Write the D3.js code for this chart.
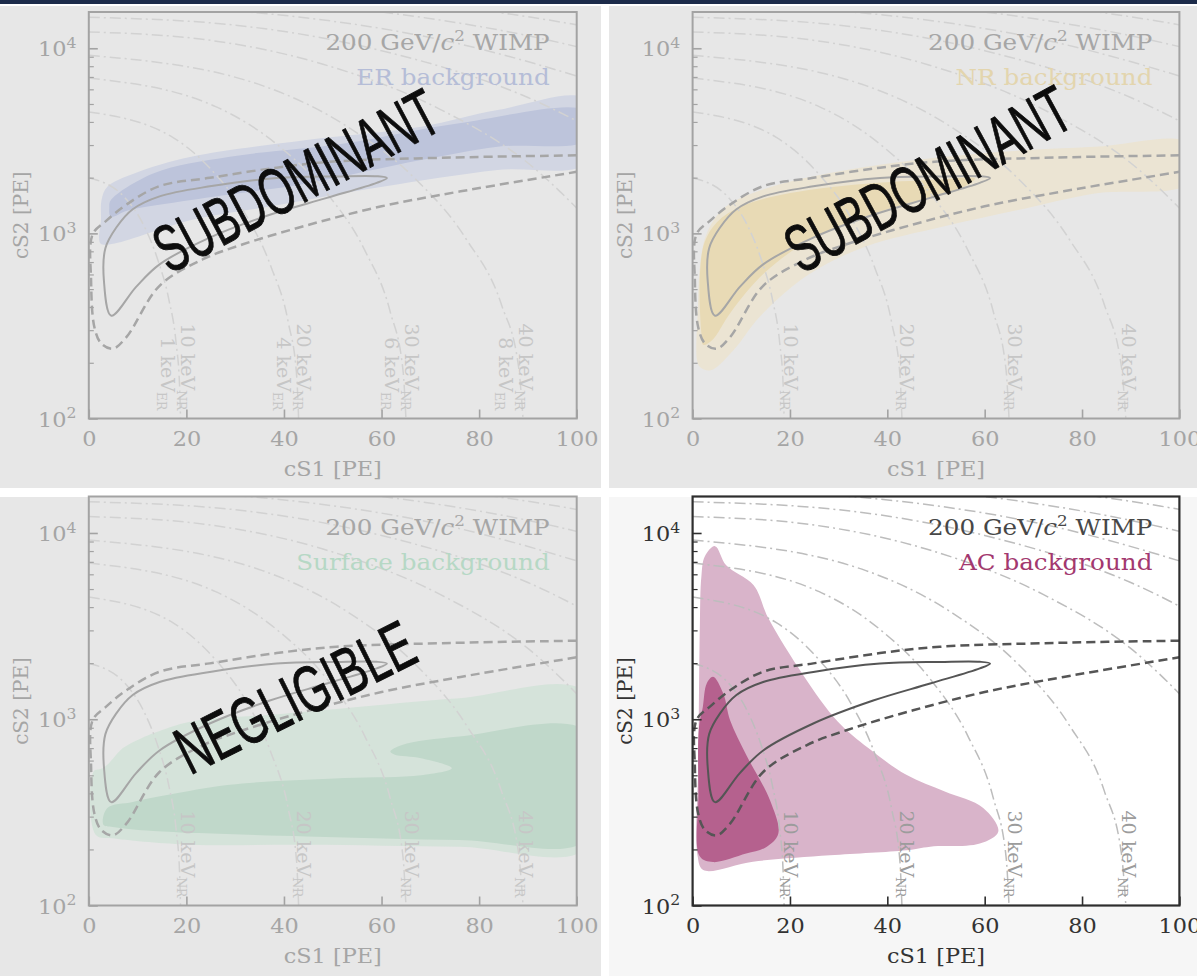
<!DOCTYPE html>
<html><head><meta charset="utf-8">
<script src="https://cdn.jsdelivr.net/npm/d3@7"></script>
<style>body{margin:0;background:#fff;} svg{display:block;}</style>
</head><body>
<svg id="c" width="1197" height="976"></svg>
<script>
// ---------------- DATA ----------------
const xTicks = [0, 20, 40, 60, 80, 100];
const yMajorTicks = [100, 1000, 10000];
const yMinorTicks = [200, 300, 400, 500, 600, 700, 800, 900, 2000, 3000, 4000, 5000, 6000, 7000, 8000, 9000];
const xDomain = [0, 100];
const yDomain = [100, 15700];

// WIMP 200 GeV signal contours [cS1, cS2]
const wimpSolid = [[4.6,359],[3.1,555],[3.4,832],[5.6,1072],[9,1350],[14.5,1585],[24.8,1795],[38.5,1990],[50.8,2030],[59,2035],[61.1,1990],[59,1875],[48.8,1556],[37.1,1260],[24.8,949],[14.5,680],[9.7,514]];
const wimpDashed = [[100,2640],[75,2570],[50.8,2450],[38.5,2265],[24.8,1995],[14.5,1800],[7.7,1430],[3.5,1165],[0.8,990],[0.47,555],[1.15,311],[2.5,255],[4.9,238],[7.7,275],[14.5,521],[23.4,725],[31.6,873],[45.3,1117],[60,1400],[76.2,1687],[100,2150]];

// constant-energy contours
const energyLines = [
  [[0,2000],[7.5,1550],[11.3,1100],[14.1,725],[16.4,440],[17.9,255],[18.6,152],[18.8,100]],
  [[0,4530],[17.2,3300],[25.8,2110],[32.3,1245],[37.4,655],[40.9,329],[42.6,171],[43,100]],
  [[0,6900],[26,4840],[39,2960],[48.8,1645],[56.6,807],[61.8,375],[64.4,182],[65,100]],
  [[0,9160],[35.6,6280],[53.4,3715],[66.8,1985],[77.4,927],[84.6,410],[88.1,189],[89,100]],
  [[0,12250],[24,11120],[48,8200],[72,4680],[90,2400],[104,1070]],
  [[0,14700],[30,13330],[60,9700],[90,5420],[112,2720]],
  [[0,17100],[36,15420],[72,11140],[108,6110]],
  [[0,19500],[42,17540],[84,12560],[126,6790]],
  [[0,21900],[48,19630],[96,13960],[144,7450]]
];
const energyLabelX = [20.2, 44, 66.2, 89.6];
const energyNR = ["10", "20", "30", "40"];
const energyER = ["1", "4", "6", "8"];

// background regions
const erOuter = [[2.4,883],[2.5,1200],[2.6,1510],[3.8,1786],[9.3,2109],[21,2594],[44.6,3192],[68.1,3767],[83.8,4634],[102,5300],[102,2400],[83.8,2198],[60.2,1786],[36.7,1393],[21,1180],[5.3,883]];
const erInner = [[4.5,1230],[4.2,1380],[4.5,1510],[13.2,2109],[28.9,2594],[52.4,3062],[75.9,3936],[102,4560],[102,3200],[83.8,2938],[68.1,2489],[44.6,1862],[21,1514],[8,1330]];
const nrOuter = [[0.9,207],[1.1,400],[1.5,661],[2.9,1000],[6.8,1393],[16.2,1786],[35.7,2291],[59.1,2704],[82.6,2938],[102,3070],[102,1870],[82.6,1644],[66.9,1337],[51.3,1086],[35.7,851],[24,603],[13.8,355],[8.4,234],[3.7,182],[1.5,190]];
const nrInner = [[1.8,290],[1.5,600],[2.5,900],[5,1150],[10,1400],[20,1650],[35,1850],[50,1950],[58,1980],[55,1750],[40,1350],[25,950],[15,620],[8,380],[4,265],[2.2,250]];
const surfOuter = [[1.0,525],[2.4,540],[3.8,569],[7,700],[10.8,791],[13.2,841],[21,973],[36.7,1054],[52.4,1146],[75.9,1297],[102,1390],[102,204],[75.9,207],[44.6,212],[21,212],[5.3,229],[1.4,240]];
const surfInner = [[3.0,271],[3.8,334],[9,360],[16.3,393],[28.9,445],[52.4,483],[68.1,501],[74.4,546],[68.1,617],[62.6,646],[61.8,671],[64.2,728],[75.9,807],[102,860],[102,225],[75.9,225],[44.6,235],[13.2,251],[5.3,263]];
const acOuter = [[4.6,8500],[6.9,6710],[12.5,5250],[15.6,3470],[22.7,1730],[29.8,972],[36.1,700],[43.9,503],[51.8,409],[59.7,334],[62.8,250],[59,215],[48.8,207],[43.9,198],[28.2,186],[12.4,172],[2.2,155],[1.0,186],[1.2,600],[1.5,3270],[1.8,5820],[2.5,7470]];
const acInner = [[4.2,1690],[6.3,1374],[7.7,988],[11.0,645],[15.9,367],[17.6,243],[15,205],[11.0,190],[4.2,171],[1.5,183],[1.2,400],[1.3,900],[2.1,1165],[2.9,1556]];

const wimpLabel = "200 GeV/";
const bgNames = ["ER background", "NR background", "Surface background", "AC background"];
const overlayTexts = ["SUBDOMINANT", "SUBDOMINANT", "NEGLIGIBLE", null];

// ---------------- STYLE / LAYOUT ----------------
const FONT = "'DejaVu Serif', serif";
const SX = 1.12;
const DIM = {bg:'#e7e7e7', plotBg:null, frame:'#a3a3a3', tick:'#a5a5a5', text:'#a6a6a6', wimp:'#a6a6a6', energy:'#d2d2d2', elabel:'#c6c6c6', fw:2};
const NORM = {bg:'#f6f6f6', plotBg:'#ffffff', frame:'#2e2e2e', tick:'#333333', text:'#474747', wimp:'#555555', energy:'#bdbdbd', elabel:'#9c9c9c', fw:2.2};

const panels = [
  {bg:[0,6,601,482], plot:[88.8,12,576.7,418.5], st:DIM, nameColor:'#b5bdd7', fills:[[erOuter,'#d2d6e3'],[erInner,'#bdc4db']], twoLine:true, ov:{cx:295.6, cy:180, a:-28, len:312}},
  {bg:[609,6,588,482], plot:[692.6,12,1179.4,418.5], st:DIM, nameColor:'#e3d5ae', fills:[[nrOuter,'#ebe4d3'],[nrInner,'#e8dab5']], twoLine:false, ov:{cx:927.4, cy:178.3, a:-28.5, len:314}},
  {bg:[0,497,601,479], plot:[88.8,496.5,576.7,905.5], st:DIM, nameColor:'#b6d8c5', fills:[[surfOuter,'#d5e3da'],[surfInner,'#c0d8ca']], twoLine:false, ov:{cx:294.7, cy:696.3, a:-26.5, len:258}},
  {bg:[609,497,588,479], plot:[692.6,496.5,1179.4,905.5], st:NORM, nameColor:'#a3386f', fills:[[acOuter,'#d9b4ca'],[acInner,'#b5618e']], twoLine:false, ov:null}
];

const svg = d3.select('#c');
svg.append('rect').attr('x',0).attr('y',0).attr('width',1197).attr('height',4).attr('fill','#1c2b4a');

panels.forEach((p, i) => {
  const st = p.st;
  const [x0, y0, x1, y1] = p.plot;
  const g = svg.append('g');
  g.append('rect').attr('x',p.bg[0]).attr('y',p.bg[1]).attr('width',p.bg[2]).attr('height',p.bg[3]).attr('fill',st.bg);
  if (st.plotBg) g.append('rect').attr('x',x0).attr('y',y0).attr('width',x1-x0).attr('height',y1-y0).attr('fill',st.plotBg);

  const x = d3.scaleLinear().domain(xDomain).range([x0, x1]);
  const y = d3.scaleLog().domain(yDomain).range([y1, y0]);
  const clipId = 'clip' + i;
  svg.append('clipPath').attr('id', clipId).append('rect').attr('x',x0).attr('y',y0).attr('width',x1-x0).attr('height',y1-y0);
  const plot = g.append('g').attr('clip-path', `url(#${clipId})`);

  const closed = d3.line().x(d => x(d[0])).y(d => y(d[1])).curve(d3.curveCatmullRomClosed.alpha(0.5));
  const open = d3.line().x(d => x(d[0])).y(d => y(d[1])).curve(d3.curveCatmullRom.alpha(0.5));
  const mono = d3.line().x(d => x(d[0])).y(d => y(d[1])).curve(d3.curveMonotoneX);

  p.fills.forEach(([pts, col]) => plot.append('path').attr('d', closed(pts)).attr('fill', col));

  energyLines.forEach(pts => plot.append('path').attr('d', mono(pts)).attr('fill','none')
    .attr('stroke', st.energy).attr('stroke-width', 1.5).attr('stroke-dasharray','11,4,2,4'));

  // energy labels
  energyLabelX.forEach((lx, k) => {
    const px = x(lx), py = y1 - 8;
    const t = g.append('text').attr('transform', `translate(${px},${py}) rotate(90)`)
      .attr('text-anchor','end').attr('dy','0.35em').attr('font-family',FONT).attr('font-size',19).attr('fill',st.elabel);
    t.append('tspan').text(energyNR[k] + ' keV');
    t.append('tspan').attr('font-size',12.5).attr('dy',4).text('NR');
    if (p.twoLine) {
      const t2 = g.append('text').attr('transform', `translate(${px-20},${py}) rotate(90)`)
        .attr('text-anchor','end').attr('dy','0.35em').attr('font-family',FONT).attr('font-size',19).attr('fill',st.elabel);
      t2.append('tspan').text(energyER[k] + ' keV');
      t2.append('tspan').attr('font-size',12.5).attr('dy',4).text('ER');
    }
  });

  // WIMP contours
  plot.append('path').attr('d', closed(wimpSolid)).attr('fill','none').attr('stroke', st.wimp).attr('stroke-width', 2);
  plot.append('path').attr('d', open(wimpDashed)).attr('fill','none').attr('stroke', st.wimp).attr('stroke-width', 2.5).attr('stroke-dasharray','9,5');

  // frame
  g.append('rect').attr('x',x0).attr('y',y0).attr('width',x1-x0).attr('height',y1-y0).attr('fill','none').attr('stroke',st.frame).attr('stroke-width',st.fw);

  // axes
  const ax = g.append('g').attr('transform',`translate(0,${y1})`)
    .call(d3.axisBottom(x).tickValues(xTicks).tickSize(-9).tickPadding(13).tickFormat(d3.format('d')));
  ax.select('.domain').remove();
  ax.selectAll('line').attr('stroke', st.frame).attr('stroke-width', 1.6);
  ax.selectAll('text').attr('font-family',FONT).attr('font-size',20).attr('fill',st.tick).attr('transform',`scale(${SX},1)`);

  const ay = g.append('g').attr('transform',`translate(${x0},0)`)
    .call(d3.axisLeft(y).tickValues(yMajorTicks).tickSize(-9).tickPadding(11).tickFormat(() => ''));
  ay.select('.domain').remove();
  ay.selectAll('line').attr('stroke', st.frame).attr('stroke-width', 1.6);
  ay.selectAll('text').each(function(d) {
    const t = d3.select(this);
    t.attr('font-family',FONT).attr('font-size',20).attr('fill',st.tick).attr('transform',`scale(${SX},1)`).attr('dy','0.38em');
    t.append('tspan').text('10');
    t.append('tspan').attr('dy','-0.6em').attr('font-size',14).text(Math.round(Math.log10(d)));
  });
  const aym = g.append('g').attr('transform',`translate(${x0},0)`)
    .call(d3.axisLeft(y).tickValues(yMinorTicks).tickSize(-5).tickFormat(() => ''));
  aym.select('.domain').remove();
  aym.selectAll('line').attr('stroke', st.frame).attr('stroke-width', 1.2);

  // axis titles
  g.append('text').attr('transform',`translate(${(x0+x1)/2},${y1+57}) scale(${SX},1)`)
    .attr('text-anchor','middle').attr('font-family',FONT).attr('font-size',20).attr('fill',st.tick).text('cS1 [PE]');
  g.append('text').attr('transform',`translate(${x0-61},${(y0+y1)/2}) rotate(-90)`)
    .attr('text-anchor','middle').attr('font-family',FONT).attr('font-size',20).attr('fill',st.tick).text('cS2 [PE]');

  // legend texts
  const lt = g.append('text').attr('transform',`translate(${x1-27},${y0+38}) scale(${SX},1)`)
    .attr('text-anchor','end').attr('font-family',FONT).attr('font-size',22).attr('fill',st.text);
  lt.append('tspan').text(wimpLabel);
  lt.append('tspan').attr('font-style','italic').text('c');
  lt.append('tspan').attr('font-size',15).attr('dy',-9).text('2');
  lt.append('tspan').attr('dy',9).text(' WIMP');
  g.append('text').attr('transform',`translate(${x1-27},${y0+73}) scale(${SX},1)`)
    .attr('text-anchor','end').attr('font-family',FONT).attr('font-size',22).attr('fill',p.nameColor).text(bgNames[i]);

  // overlay annotation
  if (p.ov && overlayTexts[i]) {
    g.append('text').attr('transform',`translate(${p.ov.cx},${p.ov.cy}) rotate(${p.ov.a})`)
      .attr('text-anchor','middle').attr('dy','0.36em')
      .attr('font-family',"'Liberation Sans Narrow', 'Liberation Sans', sans-serif").attr('font-size',67)
      .attr('textLength', p.ov.len).attr('lengthAdjust','spacingAndGlyphs')
      .attr('fill','#0d0d0d').attr('stroke','#0d0d0d').attr('stroke-width',0.9).text(overlayTexts[i]);
  }
});
</script>
</body></html>
